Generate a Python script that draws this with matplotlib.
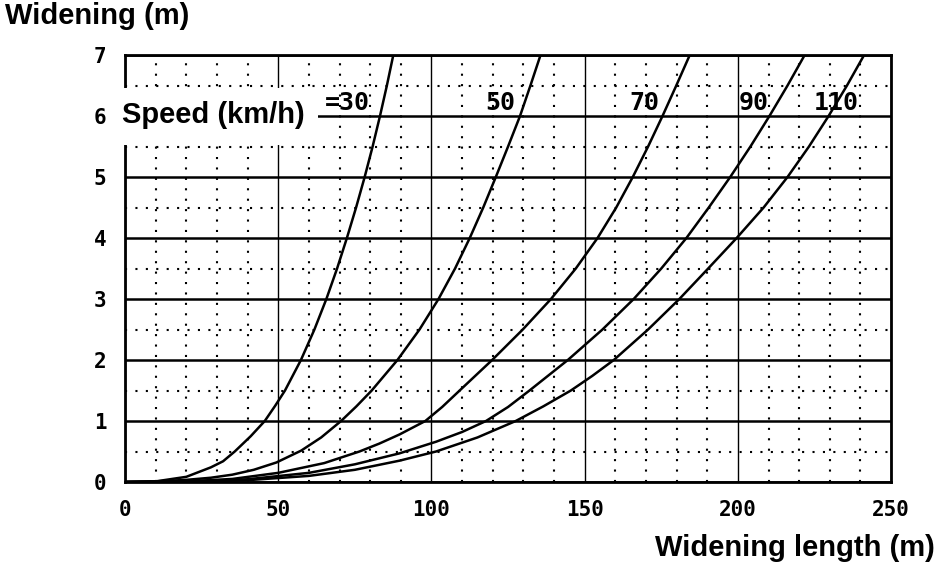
import matplotlib
matplotlib.use("Agg")
import matplotlib.pyplot as plt
from matplotlib.patches import Rectangle
from matplotlib.ticker import MultipleLocator

# widening curves, one per design speed (km/h)
speeds = ["=30", "50", "70", "90", "110"]

x30 = [0, 10, 20, 28, 32, 35.8, 41, 45.6, 49, 52.2, 57.4, 61.8, 65.7, 69.2, 72.4, 75.4, 78.2, 80.8, 83.2, 85.45, 87.55]
y30 = [0, 0.01, 0.085, 0.24, 0.34, 0.5, 0.75, 1.0, 1.25, 1.5, 2.0, 2.5, 3.0, 3.5, 4.0, 4.5, 5.0, 5.5, 6.0, 6.5, 7.0]

x50 = [0, 10, 20, 28, 35, 42, 49.4, 57.5, 64, 70.5, 75.5, 80.5, 88.9, 96.1, 102.3, 107.7, 112.5, 116.9, 121.0, 125.0, 128.9, 132.3, 135.6]
y50 = [0, 0.01, 0.035, 0.07, 0.12, 0.2, 0.32, 0.515, 0.73, 1.0, 1.24, 1.5, 2.0, 2.5, 3.0, 3.5, 4.0, 4.5, 5.0, 5.5, 6.0, 6.5, 7.0]

x70 = [0, 20, 35, 50, 65, 76.5, 83, 89.6, 93.8, 98.0, 103.5, 109.2, 119.8, 129.8, 139.0, 147.1, 154.2, 160.3, 165.7, 170.7, 175.4, 179.9, 184.3]
y70 = [0, 0.01, 0.05, 0.15, 0.31, 0.5, 0.63, 0.78, 0.89, 1.0, 1.23, 1.5, 2.0, 2.5, 3.0, 3.5, 4.0, 4.5, 5.0, 5.5, 6.0, 6.5, 7.0]

x90 = [0, 20, 40, 60, 75, 89.6, 101.5, 110, 117.8, 125, 132.0, 144.5, 155.8, 166.0, 175.0, 183.2, 190.5, 197.5, 204.1, 210.3, 216.2, 221.8]
y90 = [0, 0.005, 0.045, 0.15, 0.29, 0.47, 0.66, 0.82, 1.0, 1.23, 1.5, 2.0, 2.5, 3.0, 3.5, 4.0, 4.5, 5.0, 5.5, 6.0, 6.5, 7.0]

x110 = [0, 20, 40, 60, 75, 89.6, 101.5, 115, 127.5, 136.5, 145.5, 152.5, 159.5, 170.7, 180.9, 190.3, 199.6, 208.4, 216.2, 223.2, 229.6, 235.6, 241.2]
y110 = [0, 0.005, 0.03, 0.1, 0.2, 0.35, 0.5, 0.73, 1.0, 1.24, 1.5, 1.74, 2.0, 2.5, 3.0, 3.5, 4.0, 4.5, 5.0, 5.5, 6.0, 6.5, 7.0]

curves = [(x30, y30), (x50, y50), (x70, y70), (x90, y90), (x110, y110)]

# where the speed labels sit (x centre, y)
label_x = [72.6, 122.4, 169.6, 205.0, 232.0]
label_y = 6.21

xticks = [0, 50, 100, 150, 200, 250]
yticks = [0, 1, 2, 3, 4, 5, 6, 7]

bold = dict(family="Liberation Sans", fontweight="bold", fontsize=21)
mono = dict(family="DejaVu Sans Mono", fontweight="bold")

fig = plt.figure(figsize=(9.38, 5.69), dpi=100)
ax = fig.add_axes([0.1333, 0.1529, 0.8167, 0.7504])

for xs, ys in curves:
    ax.plot(xs, ys, color="black", lw=1.8, zorder=3, solid_joinstyle="round")

ax.set_xlim(0, 250)
ax.set_ylim(0, 7)
ax.xaxis.set_major_locator(MultipleLocator(50))
ax.xaxis.set_minor_locator(MultipleLocator(10))
ax.yaxis.set_major_locator(MultipleLocator(1))
ax.yaxis.set_minor_locator(MultipleLocator(0.5))
ax.set_xticks(xticks)
ax.set_yticks(yticks)
ax.set_xticklabels([str(t) for t in xticks], **mono, fontsize=15)
ax.set_yticklabels([str(t) for t in yticks], **mono, fontsize=15)
ax.tick_params(which="both", length=0)
ax.tick_params(axis="x", pad=13)
ax.tick_params(axis="y", pad=13.5)

ax.yaxis.grid(True, which="major", color="black", lw=1.8)
ax.xaxis.grid(True, which="major", color="black", lw=1.0)
ax.grid(True, which="minor", color="black", lw=1.5, ls=(0, (1, 4)))
ax.set_axisbelow(True)
for s in ax.spines.values():
    s.set_linewidth(2)

for lab, lx in zip(speeds, label_x):
    ax.text(lx, label_y, lab, ha="center", va="center", fontsize=18, zorder=4, **mono)

# white box holding "Speed (km/h)", covers the left spine
ax.add_patch(Rectangle((-2.3, 5.52), 65.2, 0.94, facecolor="white", edgecolor="none",
                       clip_on=False, zorder=5))
ax.text(28.7, 5.885, "Speed (km/h)", ha="center", va="baseline", zorder=6, **bold)

fig.text(0.0053, 0.958, "Widening (m)", ha="left", va="baseline", **bold)
fig.text(0.9968, 0.0228, "Widening length (m)", ha="right", va="baseline", **bold)

fig.savefig("out.png", dpi=100)
